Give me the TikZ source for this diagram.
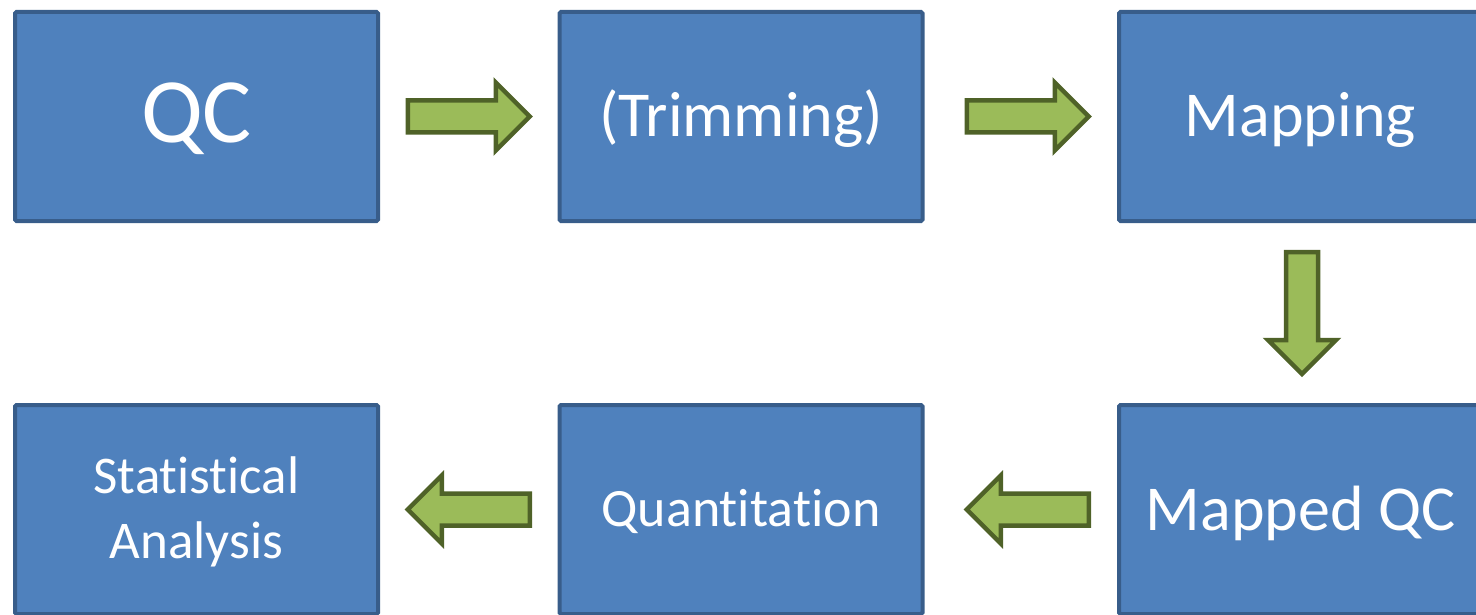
\documentclass[tikz,border=0pt]{standalone}
\usepackage{fontspec}
\setmainfont{Carlito}[Ligatures=NoCommon]
\usetikzlibrary{calc}

\definecolor{boxfill}{HTML}{4F81BD}
\definecolor{boxline}{HTML}{385D8A}
\definecolor{arrowfill}{HTML}{9BBB59}
\definecolor{arrowline}{HTML}{4F6228}

\tikzset{
  stepbox/.style={draw=boxline, fill=boxfill, line width=4pt, rounded corners=1.5pt,
    minimum width=363pt, minimum height=209pt, inner sep=0pt,
    text=white, align=center, text depth=0pt},
  blockarrow/.pic={
    \draw[draw=arrowline, fill=arrowfill, line width=4.5pt, line join=miter]
      (-61,-16) -- (27,-16) -- (27,-34) -- (61,0) -- (27,34) -- (27,16) -- (-61,16) -- cycle;
  }
}

\begin{document}
\begin{tikzpicture}[x=1pt, y=-1pt]
  \useasboundingbox (0,0) rectangle (1476,615);

  % top row
  \node[stepbox, font=\fontsize{92}{92}\selectfont, text height=53pt] (qc) at (196.5,116.5) {QC};
  \node[stepbox, font=\fontsize{64}{64}\selectfont, text height=40pt] (trim) at (741,116.5) {(Trimming)};
  \node[stepbox, font=\fontsize{64}{64}\selectfont, text height=40pt] (map) at (1300.5,116.5) {Mapping};

  % bottom row
  \node[stepbox, font=\fontsize{53}{65}\selectfont, text height=98pt] (stat) at (196.5,509.5) {Statistical\\Analysis};
  \node[stepbox, font=\fontsize{54}{54}\selectfont, text height=34pt] (quant) at (741,509.5) {Quantitation};
  \node[stepbox, font=\fontsize{64}{64}\selectfont, text height=42pt] (mqc) at (1300.5,509.5) {Mapped QC};

  % block arrows between the steps
  \pic at ($(qc.east)!0.5!(trim.west)$) {blockarrow};
  \pic at ($(trim.east)!0.5!(map.west) + (7,0)$) {blockarrow};
  \pic[rotate=-90] at ($(map.south)!0.5!(mqc.north) + (1.5,0)$) {blockarrow};
  \pic[rotate=180] at ($(quant.east)!0.5!(mqc.west) + (7,0)$) {blockarrow};
  \pic[rotate=180] at ($(stat.east)!0.5!(quant.west)$) {blockarrow};
\end{tikzpicture}
\end{document}
